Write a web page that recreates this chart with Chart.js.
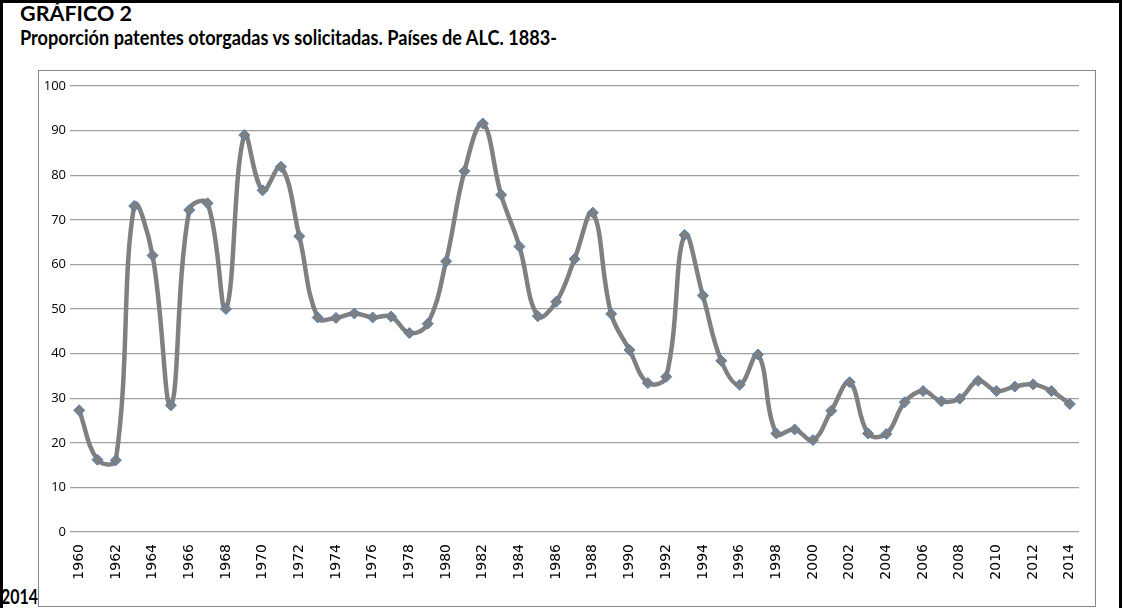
<!DOCTYPE html>
<html>
<head>
<meta charset="utf-8">
<script src="https://cdn.jsdelivr.net/npm/chart.js@4"></script>
<style>
  html, body { margin: 0; padding: 0; background: #fff; }
  body { width: 1124px; height: 608px; position: relative; overflow: hidden; font-family: Lato, sans-serif; }
  .frame { position: absolute; left: 0; top: 0; width: 1122px; height: 620px; border: 3px solid #000; box-sizing: border-box; }
  .title { position: absolute; left: 20px; font-weight: bold; font-size: 21.5px; color: #000; line-height: 24px; white-space: nowrap; transform-origin: 0 0; }
  .t1 { top: 1px; }
  .t2 { top: 25px; }
  .t3 { position: absolute; left: 1px; top: 584px; z-index: 2; font-weight: bold; font-size: 21.5px; line-height: 24px; color: #000; white-space: nowrap; transform-origin: 0 0; }
  .box { position: absolute; left: 38px; top: 70px; width: 1058px; height: 537px; border: 1px solid #868686; box-sizing: border-box; background: #fff; }
</style>
</head>
<body>
<div class="frame"></div>
<div class="title t1" data-w="112">GRÁFICO 2</div>
<div class="title t2" data-w="537">Proporción patentes otorgadas vs solicitadas. Países de ALC. 1883-</div>
<div class="box"><canvas id="chart"></canvas></div>
<div class="t3" data-w="37">2014</div>
<script>
// squeeze title text horizontally (narrow Calibri-like look)
document.querySelectorAll('[data-w]').forEach(el => {
  const w = el.getBoundingClientRect().width;
  el.style.transform = 'scaleX(' + (Number(el.dataset.w) / w) + ')';
});

// Years 1960-2014
const years = [];
for (let y = 1960; y <= 2014; y++) years.push(String(y));

// Proporción otorgadas / solicitadas (%)
const ratio = [
  27.3, 16.2, 16.1, 73.1, 62.0, 28.4, 72.2, 73.7, 50.0, 89.0,
  76.6, 81.9, 66.3, 48.1, 48.0, 49.0, 48.1, 48.3, 44.6, 46.7,
  60.7, 80.9, 91.6, 75.6, 64.0, 48.4, 51.6, 61.2, 71.6, 48.9,
  40.8, 33.4, 34.8, 66.6, 53.0, 38.4, 33.0, 39.8, 22.1, 23.0,
  20.6, 27.2, 33.6, 22.1, 22.0, 29.1, 31.6, 29.3, 29.9, 33.9,
  31.6, 32.6, 33.1, 31.6, 28.7
];

const yTicks = [0, 10, 20, 30, 40, 50, 60, 70, 80, 90, 100];

const canvas = document.getElementById('chart');
canvas.width = 1056;
canvas.height = 535;

new Chart(canvas.getContext('2d'), {
  type: 'line',
  data: {
    labels: years,
    datasets: [{
      label: 'Proporción',
      data: ratio,
      borderColor: '#808080',
      borderWidth: 4.5,
      tension: 0.4,
      fill: false,
      pointStyle: 'rectRot',
      pointRadius: 5.5,
      pointBackgroundColor: '#7f7f7f',
      pointBorderColor: '#4f81bd',
      pointBorderWidth: 1
    }]
  },
  options: {
    responsive: false,
    animation: false,
    events: [],
    layout: { padding: { top: 15, right: 16, left: 0, bottom: 0 } },
    plugins: {
      legend: { display: false },
      tooltip: { enabled: false }
    },
    scales: {
      x: {
        offset: true,
        grid: { display: false, drawTicks: false },
        border: { display: false },
        ticks: {
          autoSkip: false,
          maxRotation: 90,
          minRotation: 90,
          padding: 12,
          color: '#000',
          font: { family: 'DejaVu Sans', size: 14 },
          callback: (v, i) => (i % 2 === 0 ? years[i] : '')
        },
        afterFit: (scale) => {
          scale.height = 74;
          scale.paddingLeft = 0;
          scale.paddingRight = 0;
        }
      },
      y: {
        min: 0,
        max: 100,
        afterBuildTicks: (scale) => { scale.ticks = yTicks.map(v => ({ value: v })); },
        grid: { color: '#a0a0a0', lineWidth: 1.3, drawTicks: false },
        border: { display: false },
        ticks: {
          padding: 4,
          color: '#000',
          font: { family: 'Open Sans', size: 13 }
        },
        afterFit: (scale) => {
          scale.width = 31;
          scale.paddingTop = 0;
          scale.paddingBottom = 0;
        }
      }
    }
  }
});
</script>
</body>
</html>
